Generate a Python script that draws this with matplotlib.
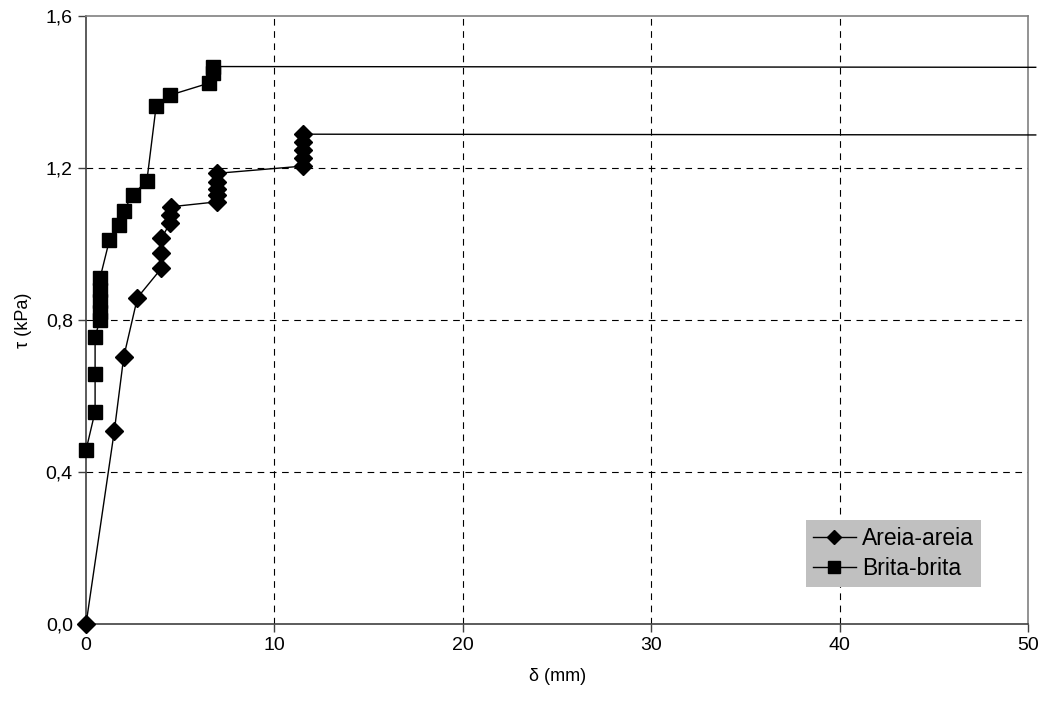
import matplotlib as mpl
mpl.use('Agg')
import matplotlib.pyplot as plt

plt.rcParams['font.family'] = ['Liberation Sans', 'DejaVu Sans']

# Areia-areia
areia_x = [0.0, 1.5, 2.0, 2.73, 4.0, 4.0, 4.0, 4.47, 4.47, 4.5,
           6.95, 6.95, 6.95, 6.95, 6.95,
           11.5, 11.5, 11.5, 11.5, 11.5, 50.4]
areia_y = [0.0, 0.508, 0.703, 0.859, 0.936, 0.977, 1.015, 1.056, 1.076, 1.098,
           1.111, 1.129, 1.146, 1.164, 1.186,
           1.205, 1.226, 1.247, 1.268, 1.289, 1.287]

# Brita-brita
brita_x = [0.0, 0.48, 0.48, 0.48, 0.74, 0.74, 0.74, 0.74, 0.74,
           1.24, 1.74, 1.99, 2.48, 3.23, 3.72, 4.47, 6.5, 6.74, 6.74, 50.4]
brita_y = [0.458, 0.559, 0.658, 0.756, 0.80, 0.82, 0.85, 0.88, 0.91,
           1.01, 1.05, 1.088, 1.129, 1.167, 1.363, 1.392, 1.423, 1.449, 1.467, 1.465]

xticks = [0, 10, 20, 30, 40, 50]
yticks = [0.0, 0.4, 0.8, 1.2, 1.6]
ytick_labels = ['0,0', '0,4', '0,8', '1,2', '1,6']

fig = plt.figure(figsize=(10.43, 7.08), dpi=100)
ax = fig.add_axes([0.0825, 0.1186, 0.9033, 0.8588])

ax.plot(areia_x, areia_y, color='black', lw=1, marker='D', markersize=9,
        markevery=list(range(len(areia_x) - 1)), label='Areia-areia',
        clip_on=False, zorder=3)
ax.plot(brita_x, brita_y, color='black', lw=1, marker='s', markersize=9.5,
        markevery=list(range(len(brita_x) - 1)), label='Brita-brita',
        clip_on=False, zorder=3)

ax.set_xlim(0, 50)
ax.set_ylim(0, 1.6)
ax.set_xticks(xticks)
ax.set_xticklabels([str(t) for t in xticks])
ax.set_yticks(yticks)
ax.set_yticklabels(ytick_labels)
ax.tick_params(labelsize=14, direction='out', length=6, width=1, color='#404040')

ax.grid(True, color='black', linestyle=(0, (6, 5)), lw=0.8)
# no dashed grid on the frame edges
for gl in [ax.xaxis.get_gridlines()[0], ax.xaxis.get_gridlines()[-1],
           ax.yaxis.get_gridlines()[0], ax.yaxis.get_gridlines()[-1]]:
    gl.set_visible(False)
for s in ax.spines.values():
    s.set_color('#808080')
    s.set_linewidth(1.2)
ax.spines['left'].set_color('#404040')
ax.spines['bottom'].set_color('#404040')

ax.set_xlabel('δ (mm)', fontsize=13, labelpad=10)
ax.set_ylabel('τ (kPa)', fontsize=13, labelpad=10)

leg = ax.legend(loc='lower left', bbox_to_anchor=(0.764, 0.061), borderaxespad=0,
                fontsize=16.5, frameon=True, fancybox=False, handlelength=1.9,
                handletextpad=0.25, borderpad=0.3, labelspacing=0.3)
leg.get_frame().set_facecolor('#c0c0c0')
leg.get_frame().set_edgecolor('none')
leg.get_frame().set_alpha(1)
leg.legend_handles[0].set_markersize(7)
leg.legend_handles[1].set_markersize(8)

fig.savefig('out.png', dpi=100)
